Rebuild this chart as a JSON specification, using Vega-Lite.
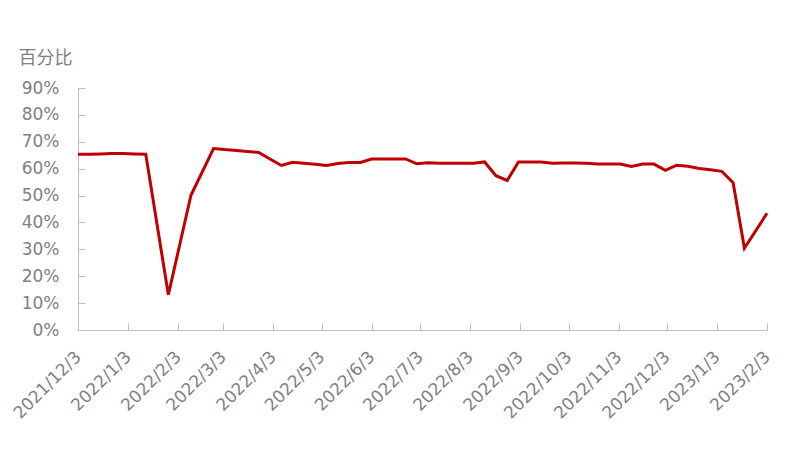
{
  "$schema": "https://vega.github.io/schema/vega-lite/v6.json",
  "width": 689,
  "height": 242,
  "autosize": "none",
  "padding": {"left": 78, "top": 88, "right": 38, "bottom": 125},
  "background": "white",
  "config": {
    "view": {"stroke": null},
    "font": "DejaVu Sans"
  },
  "data": {
    "values": [
      {"date": "2021-12-03", "v": 0.654},
      {"date": "2021-12-10", "v": 0.654},
      {"date": "2021-12-17", "v": 0.655},
      {"date": "2021-12-24", "v": 0.656},
      {"date": "2021-12-31", "v": 0.656},
      {"date": "2022-01-07", "v": 0.655},
      {"date": "2022-01-14", "v": 0.654},
      {"date": "2022-01-28", "v": 0.131},
      {"date": "2022-02-11", "v": 0.501},
      {"date": "2022-02-25", "v": 0.675},
      {"date": "2022-03-04", "v": 0.671},
      {"date": "2022-03-11", "v": 0.668},
      {"date": "2022-03-18", "v": 0.664},
      {"date": "2022-03-25", "v": 0.660},
      {"date": "2022-04-01", "v": 0.636},
      {"date": "2022-04-08", "v": 0.612},
      {"date": "2022-04-15", "v": 0.624},
      {"date": "2022-04-22", "v": 0.620},
      {"date": "2022-04-29", "v": 0.616},
      {"date": "2022-05-06", "v": 0.612},
      {"date": "2022-05-13", "v": 0.619},
      {"date": "2022-05-20", "v": 0.623},
      {"date": "2022-05-27", "v": 0.623},
      {"date": "2022-06-03", "v": 0.636},
      {"date": "2022-06-10", "v": 0.636},
      {"date": "2022-06-17", "v": 0.636},
      {"date": "2022-06-24", "v": 0.636},
      {"date": "2022-07-01", "v": 0.618},
      {"date": "2022-07-08", "v": 0.622},
      {"date": "2022-07-15", "v": 0.620},
      {"date": "2022-07-22", "v": 0.620},
      {"date": "2022-07-29", "v": 0.620},
      {"date": "2022-08-05", "v": 0.620},
      {"date": "2022-08-12", "v": 0.625},
      {"date": "2022-08-19", "v": 0.574},
      {"date": "2022-08-26", "v": 0.556},
      {"date": "2022-09-02", "v": 0.625},
      {"date": "2022-09-09", "v": 0.625},
      {"date": "2022-09-16", "v": 0.625},
      {"date": "2022-09-23", "v": 0.620},
      {"date": "2022-09-30", "v": 0.621},
      {"date": "2022-10-07", "v": 0.621},
      {"date": "2022-10-14", "v": 0.620},
      {"date": "2022-10-21", "v": 0.617},
      {"date": "2022-10-28", "v": 0.617},
      {"date": "2022-11-04", "v": 0.617},
      {"date": "2022-11-11", "v": 0.608},
      {"date": "2022-11-18", "v": 0.617},
      {"date": "2022-11-25", "v": 0.617},
      {"date": "2022-12-02", "v": 0.594},
      {"date": "2022-12-09", "v": 0.613},
      {"date": "2022-12-16", "v": 0.609},
      {"date": "2022-12-23", "v": 0.601},
      {"date": "2022-12-30", "v": 0.596},
      {"date": "2023-01-06", "v": 0.590},
      {"date": "2023-01-13", "v": 0.548},
      {"date": "2023-01-20", "v": 0.304},
      {"date": "2023-02-03", "v": 0.434}
    ]
  },
  "mark": {"type": "line", "color": "#C00000", "strokeWidth": 3, "clip": false},
  "encoding": {
    "x": {
      "field": "date",
      "type": "temporal",
      "scale": {"domain": [{"year": 2021, "month": 12, "date": 3}, {"year": 2023, "month": 2, "date": 3}]},
      "axis": {
        "title": null,
        "grid": false,
        "values": [
          {"year": 2021, "month": 12, "date": 3},
          {"year": 2022, "month": 1, "date": 3},
          {"year": 2022, "month": 2, "date": 3},
          {"year": 2022, "month": 3, "date": 3},
          {"year": 2022, "month": 4, "date": 3},
          {"year": 2022, "month": 5, "date": 3},
          {"year": 2022, "month": 6, "date": 3},
          {"year": 2022, "month": 7, "date": 3},
          {"year": 2022, "month": 8, "date": 3},
          {"year": 2022, "month": 9, "date": 3},
          {"year": 2022, "month": 10, "date": 3},
          {"year": 2022, "month": 11, "date": 3},
          {"year": 2022, "month": 12, "date": 3},
          {"year": 2023, "month": 1, "date": 3},
          {"year": 2023, "month": 2, "date": 3}
        ],
        "format": "%Y/%-m/%-d",
        "labelAngle": -45,
        "labelAlign": "right",
        "labelBaseline": "middle",
        "labelFont": "DejaVu Sans",
        "labelFontSize": 17,
        "labelColor": "#7f7f7f",
        "labelPadding": 31,
        "labelDx": 3,
        "labelOverlap": false,
        "labelFlush": false,
        "domainColor": "#bfbfbf",
        "tickColor": "#bfbfbf",
        "tickSize": -7
      }
    },
    "y": {
      "field": "v",
      "type": "quantitative",
      "scale": {"domain": [0, 0.9], "nice": false},
      "axis": {
        "title": "百分比",
        "titleFont": "Noto Sans CJK SC",
        "titleAngle": 0,
        "titleAlign": "left",
        "titleBaseline": "middle",
        "titleX": -60,
        "titleY": -30,
        "titleFontSize": 18,
        "titleFontWeight": "normal",
        "titleColor": "#7f7f7f",
        "grid": false,
        "values": [0, 0.1, 0.2, 0.3, 0.4, 0.5, 0.6, 0.7, 0.8, 0.9],
        "format": ".0%",
        "labelFont": "DejaVu Sans",
        "labelFontSize": 17,
        "labelColor": "#7f7f7f",
        "labelPadding": 26,
        "domainColor": "#bfbfbf",
        "tickColor": "#bfbfbf",
        "tickSize": -7
      }
    }
  }
}
